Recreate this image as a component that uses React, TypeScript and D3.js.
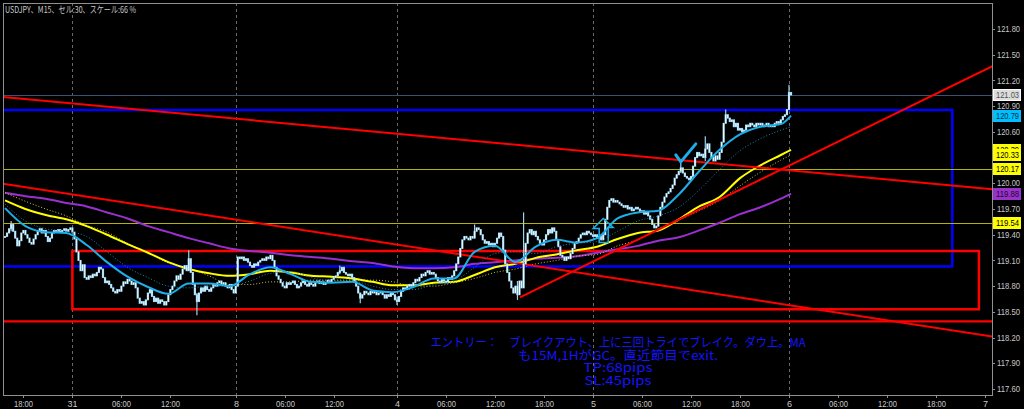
import React, { useEffect, useRef } from "react";
import * as d3 from "d3";

// USDJPY M15 closes, one per candle
const closes = [
  119.38, 119.42, 119.47, 119.52, 119.44, 119.36, 119.27, 119.33, 119.42, 119.45,
  119.40, 119.36, 119.31, 119.29, 119.35, 119.40, 119.44, 119.47, 119.42, 119.45,
  119.38, 119.32, 119.36, 119.42, 119.45, 119.44, 119.46, 119.43, 119.45, 119.47,
  119.44, 119.46, 119.48, 119.43, 119.35, 119.20, 119.10, 118.98, 119.05, 118.90,
  118.88, 118.92, 118.90, 118.94, 118.92, 118.96, 119.02, 119.00, 118.90, 118.84,
  118.86, 118.82, 118.78, 118.74, 118.72, 118.76, 118.74, 118.80, 118.85, 118.83,
  118.88, 118.86, 118.82, 118.84, 118.78, 118.66, 118.60, 118.62, 118.58, 118.64,
  118.72, 118.76, 118.68, 118.62, 118.66, 118.60, 118.64, 118.62, 118.58, 118.62,
  118.70, 118.76, 118.80, 118.86, 118.92, 118.88, 118.94, 119.00, 119.04, 118.98,
  119.12, 118.96, 118.82, 118.70, 118.62, 118.72, 118.78, 118.74, 118.80, 118.76,
  118.74, 118.78, 118.82, 118.80, 118.84, 118.86, 118.82, 118.84, 118.80, 118.78,
  118.82, 118.76, 118.72, 118.80, 119.14, 119.12, 119.14, 119.10, 119.12, 119.08,
  119.04, 119.02, 119.06, 119.04, 119.08, 119.10, 119.12, 119.10, 119.14, 119.12,
  119.16, 119.10, 119.02, 118.92, 118.88, 118.84, 118.80, 118.78, 118.84, 118.82,
  118.84, 118.86, 118.82, 118.78, 118.80, 118.84, 118.86, 118.82, 118.80, 118.84,
  118.82, 118.80, 118.84, 118.86, 118.83, 118.85, 118.82, 118.84, 118.87, 118.85,
  118.88, 118.90, 118.92, 118.96, 118.98, 119.02, 118.96, 118.94, 118.92, 118.94,
  118.90, 118.86, 118.80, 118.72, 118.66, 118.70, 118.74, 118.72, 118.70, 118.74,
  118.72, 118.74, 118.70, 118.72, 118.74, 118.70, 118.66, 118.70, 118.68, 118.72,
  118.70, 118.64, 118.62, 118.68, 118.74, 118.78, 118.76, 118.80, 118.82, 118.80,
  118.84, 118.88, 118.86, 118.90, 118.94, 118.92, 118.96, 118.98, 118.94, 118.96,
  118.94, 118.90, 118.86, 118.84, 118.88, 118.86, 118.84, 118.90, 118.88, 118.92,
  118.98, 119.06, 119.14, 119.24, 119.34, 119.38, 119.36, 119.34, 119.38, 119.36,
  119.44, 119.48, 119.46, 119.40, 119.34, 119.30, 119.32, 119.28, 119.30, 119.26,
  119.30, 119.36, 119.42, 119.38, 119.22, 119.06, 118.96, 118.86, 118.78, 118.72,
  118.80, 118.70, 118.86, 118.78, 119.06, 119.30, 119.42, 119.46, 119.40, 119.44,
  119.38, 119.34, 119.30, 119.28, 119.34, 119.40, 119.46, 119.42, 119.48, 119.44,
  119.34, 119.26, 119.16, 119.14, 119.10, 119.14, 119.12, 119.18, 119.24, 119.30,
  119.32, 119.36, 119.40, 119.42, 119.40, 119.44, 119.42, 119.40, 119.38, 119.40,
  119.36, 119.38, 119.34, 119.40, 119.58, 119.72, 119.80, 119.82, 119.78, 119.80,
  119.78, 119.76, 119.74, 119.72, 119.74, 119.70, 119.72, 119.68, 119.70, 119.72,
  119.70, 119.66, 119.68, 119.64, 119.66, 119.62, 119.58, 119.52, 119.48, 119.50,
  119.62, 119.72, 119.78, 119.84, 119.88, 119.90, 119.94, 119.98, 120.06, 120.10,
  120.14, 120.18, 120.12, 120.08, 120.06, 120.04, 120.08, 120.20, 120.30, 120.36,
  120.32, 120.34, 120.30, 120.40, 120.46, 120.36, 120.30, 120.26, 120.32, 120.28,
  120.36, 120.48, 120.70, 120.80, 120.76, 120.72, 120.74, 120.66, 120.70, 120.62,
  120.64, 120.60, 120.62, 120.68, 120.66, 120.70, 120.68, 120.66, 120.70, 120.68,
  120.70, 120.66, 120.68, 120.70, 120.66, 120.68, 120.66, 120.70, 120.72, 120.70,
  120.74, 120.78, 120.80, 120.86, 121.06, 121.03,
];

// candles with a visible wick past the body: [index, high, low]
const wicks: [number, number, number][] = [
  [3, 119.56, 119.44], [90, 119.22, 119.0], [94, 118.72, 118.46], [164, 119.04, 118.94],
  [174, 118.72, 118.6], [192, 118.68, 118.58], [230, 119.52, 119.36], [251, 118.86, 118.64],
  [254, 119.66, 118.78], [331, 120.27, 120.12], [343, 120.55, 120.26], [353, 120.86, 120.7],
  [384, 121.15, 120.86],
];

// moving averages sampled every 10 candles
const maIndex = d3.range(0, 390, 10).concat([385]);
const maCyan = [119.71, 119.5, 119.43, 119.42, 119.28, 119.08, 118.91, 118.79, 118.71, 118.83, 118.83, 118.8, 118.94, 119.02, 118.94, 118.85, 118.84, 118.85, 118.75, 118.73, 118.79, 118.89, 118.89, 119.2, 119.27, 119.08, 119.26, 119.34, 119.31, 119.36, 119.59, 119.66, 119.68, 119.87, 120.14, 120.39, 120.57, 120.66, 120.69, 120.79];
const maCyanDot = [119.76, 119.56, 119.47, 119.44, 119.38, 119.2, 119.02, 118.9, 118.8, 118.78, 118.8, 118.8, 118.86, 118.95, 118.97, 118.9, 118.86, 118.86, 118.8, 118.76, 118.76, 118.82, 118.86, 119.02, 119.18, 119.2, 119.18, 119.26, 119.3, 119.32, 119.44, 119.56, 119.62, 119.72, 119.92, 120.16, 120.38, 120.52, 120.62, 120.66];
const maYellow = [119.8, 119.7, 119.63, 119.58, 119.5, 119.4, 119.29, 119.19, 119.08, 119.0, 118.95, 118.92, 118.94, 118.98, 118.96, 118.92, 118.91, 118.89, 118.85, 118.81, 118.81, 118.84, 118.85, 118.93, 119.02, 119.06, 119.13, 119.17, 119.22, 119.26, 119.35, 119.42, 119.45, 119.58, 119.73, 119.84, 120.06, 120.21, 120.33, 120.39];
const maYellowDot = [119.89, 119.79, 119.7, 119.62, 119.51, 119.43, 119.3, 119.19, 119.07, 119.01, 118.92, 118.82, 118.82, 118.85, 118.85, 118.87, 118.87, 118.87, 118.87, 118.85, 118.8, 118.8, 118.84, 118.89, 118.96, 119.0, 119.06, 119.1, 119.15, 119.17, 119.27, 119.34, 119.47, 119.57, 119.68, 119.8, 119.97, 120.13, 120.27, 120.33];
const maPurple = [119.89, 119.85, 119.82, 119.77, 119.73, 119.66, 119.59, 119.5, 119.43, 119.36, 119.3, 119.24, 119.21, 119.19, 119.16, 119.14, 119.12, 119.09, 119.07, 119.03, 119.01, 119.01, 119.02, 119.06, 119.08, 119.1, 119.12, 119.13, 119.15, 119.19, 119.23, 119.27, 119.33, 119.37, 119.45, 119.54, 119.64, 119.72, 119.82, 119.88];

const priceTicks = [121.8, 121.5, 121.2, 120.9, 120.6, 120.3, 120.0, 119.7, 119.4, 119.1, 118.8, 118.5, 118.2, 117.9, 117.6];
const timeTickIdx = [9, 33, 57, 81, 113, 137, 161, 192, 216, 240, 264, 288, 312, 336, 360, 384, 408, 432, 456, 480];
const timeTickLabels = ["18:00", "31", "06:00", "12:00", "8", "06:00", "12:00", "4", "06:00", "12:00", "18:00", "5", "06:00", "12:00", "18:00", "6", "06:00", "12:00", "18:00", "7"];
const daySeparators = [33, 113, 192, 288, 384];

// horizontal levels
const bidPrice = 121.03;
const yellowLevels = [120.17, 119.54];
const redLevel = 118.39;
// boxes: [fromIndex, toIndex, top, bottom]
const blueBox = [-10, 464, 120.855, 119.03];
const redBox = [33, 477, 119.21, 118.53];
// trendlines: [index1, price1, index2, price2]
const trendLines = [
  [-2.5, 121.01, 484, 119.93],
  [-2.5, 120.0, 484, 118.21],
  [252.2, 118.67, 484, 121.37],
];

const priceTags = [
  { v: 121.03, bg: "#dcdcdc", fg: "#505050" },
  { v: 120.79, bg: "#00bfff", fg: "#00304a" },
  { v: 120.39, bg: "#ffff00", fg: "#000000" },
  { v: 120.33, bg: "#ffff00", fg: "#000000" },
  { v: 120.17, bg: "#ffff00", fg: "#000000" },
  { v: 119.88, bg: "#9932cc", fg: "#1a0a22" },
  { v: 119.54, bg: "#ffff00", fg: "#000000" },
];

const noteLines = [
  "エントリー：　ブレイクアウト、上に三回トライでブレイク。ダウ上。MA",
  "も15M,1HがGC。直近節目でexit.",
  "TP:68pips",
  "SL:45pips",
];
const noteWidths = [375, 200, 69, 67];

const W = 1024;
const H = 409;

export default function App() {
  const ref = useRef<SVGSVGElement>(null);

  useEffect(() => {
    const svg = d3.select(ref.current);
    svg.selectAll("*").remove();

    const left = 3, right = 992, top = 3, bottom = 395;
    const x = d3.scaleLinear().domain([0, 480]).range([5, 985]);
    const y = d3.scaleLinear().domain([117.6, 121.8]).range([389, 29]);

    svg.append("rect").attr("width", W).attr("height", H).attr("fill", "#000");

    svg.append("defs").append("clipPath").attr("id", "plot")
      .append("rect").attr("x", left).attr("y", top)
      .attr("width", right - left).attr("height", bottom - top);

    const plot = svg.append("g").attr("clip-path", "url(#plot)");

    // day separators
    plot.selectAll(".sep").data(daySeparators).enter().append("line")
      .attr("x1", (d) => Math.round(x(d)) + 0.5).attr("x2", (d) => Math.round(x(d)) + 0.5)
      .attr("y1", top).attr("y2", bottom)
      .attr("stroke", "#6a6a6a").attr("stroke-dasharray", "3,3");

    // boxes
    plot.append("rect")
      .attr("x", x(blueBox[0])).attr("y", y(blueBox[2]))
      .attr("width", x(blueBox[1]) - x(blueBox[0])).attr("height", y(blueBox[3]) - y(blueBox[2]))
      .attr("fill", "none").attr("stroke", "#0000ff").attr("stroke-width", 2.5);
    plot.append("rect")
      .attr("x", x(redBox[0])).attr("y", y(redBox[2]))
      .attr("width", x(redBox[1]) - x(redBox[0])).attr("height", y(redBox[3]) - y(redBox[2]))
      .attr("fill", "none").attr("stroke", "#ff0000").attr("stroke-width", 2.5);

    // horizontal levels
    plot.selectAll(".yl").data(yellowLevels).enter().append("line")
      .attr("x1", left).attr("x2", right)
      .attr("y1", (d) => Math.round(y(d)) + 0.5).attr("y2", (d) => Math.round(y(d)) + 0.5)
      .attr("stroke", "#b4b400").attr("stroke-width", 1);
    plot.append("line").attr("x1", left).attr("x2", right)
      .attr("y1", y(redLevel)).attr("y2", y(redLevel))
      .attr("stroke", "#ff0000").attr("stroke-width", 2.2);
    plot.append("line").attr("x1", left).attr("x2", right)
      .attr("y1", Math.round(y(bidPrice)) + 0.5).attr("y2", Math.round(y(bidPrice)) + 0.5)
      .attr("stroke", "#3b4f70").attr("stroke-width", 1);

    // moving averages
    const maLine = d3.line<number>()
      .x((_, i) => x(maIndex[i]))
      .y((d) => y(d))
      .curve(d3.curveMonotoneX);
    plot.append("path").attr("d", maLine(maPurple)).attr("fill", "none")
      .attr("stroke", "#9b30d0").attr("stroke-width", 2);
    plot.append("path").attr("d", maLine(maYellowDot)).attr("fill", "none")
      .attr("stroke", "#c8c83c").attr("stroke-width", 1).attr("stroke-dasharray", "1,2");
    plot.append("path").attr("d", maLine(maYellow)).attr("fill", "none")
      .attr("stroke", "#ffff00").attr("stroke-width", 2);

    // trendlines
    plot.selectAll(".tl").data(trendLines).enter().append("line")
      .attr("x1", (d) => x(d[0])).attr("y1", (d) => y(d[1]))
      .attr("x2", (d) => x(d[2])).attr("y2", (d) => y(d[3]))
      .attr("stroke", "#ff0000").attr("stroke-width", 2);

    // candles: light blue bar with a white core
    const wickMap = new Map(wicks.map((w) => [w[0], w]));
    const candles = plot.append("g");
    closes.forEach((c, i) => {
      const o = i === 0 ? c : closes[i - 1];
      const cx = x(i);
      const yTop = y(Math.max(o, c));
      const yBot = y(Math.min(o, c));
      const h = Math.max(1, yBot - yTop);
      const w = wickMap.get(i);
      if (w) {
        candles.append("line").attr("x1", cx).attr("x2", cx)
          .attr("y1", y(w[1])).attr("y2", y(w[2]))
          .attr("stroke", "#9ad6f2").attr("stroke-width", 1.2);
      }
      candles.append("rect")
        .attr("x", cx - 1.1).attr("width", 2.2)
        .attr("y", yTop - 0.5).attr("height", h + 1)
        .attr("fill", "#8ccfee");
      candles.append("rect")
        .attr("x", cx - 0.5).attr("width", 1)
        .attr("y", yTop).attr("height", h)
        .attr("fill", c >= o ? "#ffffff" : "#e8f6fd");
    });

    plot.append("path").attr("d", maLine(maCyanDot)).attr("fill", "none")
      .attr("stroke", "#1c86b8").attr("stroke-width", 1).attr("stroke-dasharray", "1,2");
    plot.append("path").attr("d", maLine(maCyan)).attr("fill", "none")
      .attr("stroke", "#1eaee8").attr("stroke-width", 2);

    // check mark and up arrow objects
    const ck = [x(331.5), y(120.25)];
    plot.append("path")
      .attr("d", `M${ck[0] - 6},${ck[1] - 7} L${ck[0] - 1},${ck[1]} L${ck[0] + 14},${ck[1] - 18}`)
      .attr("fill", "none").attr("stroke", "#1eaee8").attr("stroke-width", 3)
      .attr("stroke-linecap", "round").attr("stroke-linejoin", "round");
    const ar = [x(293), y(119.59)];
    plot.append("path")
      .attr("d", `M${ar[0] - 4},${ar[1] + 24} L${ar[0] - 4},${ar[1] + 10} L${ar[0] - 10},${ar[1] + 10} L${ar[0]},${ar[1]} L${ar[0] + 10},${ar[1] + 9} L${ar[0] + 5},${ar[1] + 9} L${ar[0] + 5},${ar[1] + 24} Z`)
      .attr("fill", "none").attr("stroke", "#1eaee8").attr("stroke-width", 1.5);

    // note text
    const note = svg.append("g").attr("font-family", "'Noto Sans CJK JP', sans-serif")
      .attr("font-size", 12).attr("fill", "#1414ff").attr("text-anchor", "middle");
    noteLines.forEach((t, i) => {
      note.append("text").attr("x", 618).attr("y", 347 + i * 12.7)
        .attr("textLength", noteWidths[i]).attr("lengthAdjust", "spacingAndGlyphs")
        .text(t);
    });

    // frame
    svg.append("rect").attr("x", left + 0.5).attr("y", top + 0.5)
      .attr("width", right - left).attr("height", bottom - top)
      .attr("fill", "none").attr("stroke", "#909090");

    // price axis
    const axisFont = "'Liberation Sans', Arial, sans-serif";
    const pa = svg.append("g").attr("font-family", axisFont).attr("font-size", 9).attr("fill", "#c8c8c8");
    priceTicks.forEach((p) => {
      pa.append("line").attr("x1", right).attr("x2", right + 3)
        .attr("y1", Math.round(y(p)) + 0.5).attr("y2", Math.round(y(p)) + 0.5)
        .attr("stroke", "#909090");
      pa.append("text").attr("x", right + 5).attr("y", y(p) + 3.2)
        .attr("textLength", 23).attr("lengthAdjust", "spacingAndGlyphs")
        .text(p.toFixed(2));
    });

    // price tags
    priceTags.forEach((t) => {
      const ty = y(t.v);
      svg.append("rect").attr("x", right + 1.5).attr("y", Math.round(ty) - 5.5)
        .attr("width", 27).attr("height", 11)
        .attr("fill", t.bg).attr("stroke", t.bg === "#dcdcdc" ? "#ffffff" : t.bg);
      svg.append("text").attr("x", right + 4).attr("y", ty + 3.2)
        .attr("font-family", axisFont).attr("font-size", 9).attr("fill", t.fg)
        .attr("textLength", 23).attr("lengthAdjust", "spacingAndGlyphs")
        .text(t.v.toFixed(2));
    });

    // time axis
    const ta = svg.append("g").attr("font-family", axisFont).attr("font-size", 9)
      .attr("fill", "#c8c8c8").attr("text-anchor", "middle");
    timeTickIdx.forEach((idx, i) => {
      const tx = Math.round(x(idx)) + 0.5;
      ta.append("line").attr("x1", tx).attr("x2", tx).attr("y1", bottom).attr("y2", bottom + 3)
        .attr("stroke", "#909090");
      const label = ta.append("text").attr("x", tx).attr("y", 406.5).text(timeTickLabels[i]);
      if (timeTickLabels[i].length > 2) {
        label.attr("textLength", 19).attr("lengthAdjust", "spacingAndGlyphs");
      }
    });

    // title
    svg.append("text").attr("x", 5).attr("y", 13)
      .attr("font-family", "'Noto Sans CJK JP', sans-serif").attr("font-size", 9)
      .attr("fill", "#c8c8c8").attr("textLength", 131).attr("lengthAdjust", "spacingAndGlyphs")
      .text("USDJPY、M15、セル:30、スケール:66 %");
  }, []);

  return (
    <svg
      ref={ref}
      width={W}
      height={H}
      style={{ position: "fixed", left: 0, top: 0, display: "block" }}
    />
  );
}
